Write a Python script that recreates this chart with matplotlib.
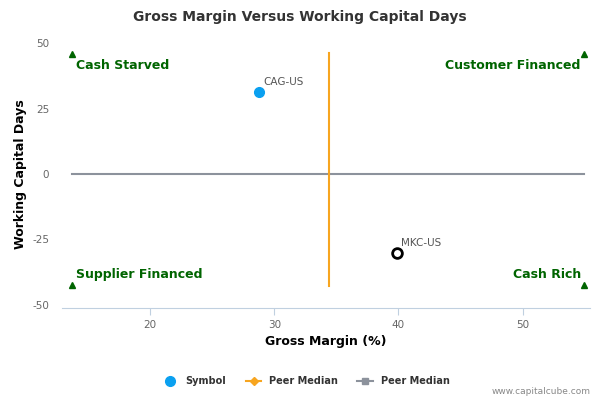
import matplotlib.pyplot as plt
from matplotlib.lines import Line2D

plt.rcParams["axes.unicode_minus"] = False

# data
symbols = ["CAG-US", "MKC-US"]
gross_margin = [28.75, 39.9]
wc_days = [31.4, -30.3]
filled = [True, False]

peer_median_x = 34.4      # vertical orange line
peer_median_y = 0.0       # horizontal gray line
vline_span = [-42.9, 46.3]
hline_span = [13.7, 54.9]

quadrants = ["Cash Starved", "Customer Financed", "Supplier Financed", "Cash Rich"]
quad_x = [13.7, 54.9, 13.7, 54.9]
quad_y = [46.0, 46.0, -42.5, -42.5]

xticks = [20, 30, 40, 50]
yticks = [50, 25, 0, -25, -50]

green = "#006400"
blue = "#0aa0f0"
orange = "#f7a520"
gray = "#8c929c"

fig = plt.figure(figsize=(6, 4), dpi=100)
ax = fig.add_axes([0.103, 0.23, 0.88, 0.67])

ax.plot(hline_span, [peer_median_y, peer_median_y], color=gray, lw=1.5, zorder=2)
ax.plot([peer_median_x, peer_median_x], vline_span, color=orange, lw=1.5, zorder=2)

for s, gx, wy, f in zip(symbols, gross_margin, wc_days, filled):
    if f:
        ax.plot(gx, wy, "o", ms=7, color=blue, zorder=3)
    else:
        ax.plot(gx, wy, "o", ms=7, mfc="white", mec="black", mew=2, zorder=3)
    ax.annotate(s, (gx, wy), xytext=(3, 5), textcoords="offset points",
                fontsize=7.5, color="#555555")

for i, (q, qx, qy) in enumerate(zip(quadrants, quad_x, quad_y)):
    ax.plot(qx, qy, "^", ms=5, color=green, clip_on=False, zorder=3)
    ha = "left" if i % 2 == 0 else "right"
    dx = 3 if i % 2 == 0 else -2
    va = "top" if i < 2 else "bottom"
    dy = -4 if i < 2 else 3
    ax.annotate(q, (qx, qy), xytext=(dx, dy), textcoords="offset points",
                ha=ha, va=va, fontsize=9, fontweight="bold", color=green)

ax.set_xlim(12.9, 55.4)
ax.set_ylim(-51.3, 51.3)
ax.set_xticks(xticks)
ax.set_yticks(yticks)
for sp in ["top", "right", "left"]:
    ax.spines[sp].set_visible(False)
ax.spines["bottom"].set_color("#c0d0e0")
ax.tick_params(axis="x", colors="#c0d0e0", labelcolor="#666666", labelsize=7.5, length=5)
ax.tick_params(axis="y", length=0, labelcolor="#666666", labelsize=7.5, pad=9)

ax.set_xlabel("Gross Margin (%)", fontsize=9, fontweight="bold", labelpad=4)
ax.set_ylabel("Working Capital Days", fontsize=9, fontweight="bold", labelpad=4)
fig.text(0.5, 0.958, "Gross Margin Versus Working Capital Days", ha="center",
         va="center", fontsize=10, fontweight="bold", color="#333333")

handles = [
    Line2D([], [], marker="o", ls="none", color=blue, ms=7),
    Line2D([], [], marker="D", color=orange, ms=4, lw=1.5),
    Line2D([], [], marker="s", color=gray, ms=5, lw=1.5),
]
fig.legend(handles, ["Symbol", "Peer Median", "Peer Median"], loc="center",
           bbox_to_anchor=(0.51, 0.047), ncol=3, frameon=False,
           prop={"size": 7, "weight": "bold"}, handlelength=1.6, columnspacing=2.0,
           labelcolor="#333333")
fig.text(0.985, 0.022, "www.capitalcube.com", ha="right", va="center",
         fontsize=6.5, color="#888888")

fig.savefig("out.png", dpi=100)
